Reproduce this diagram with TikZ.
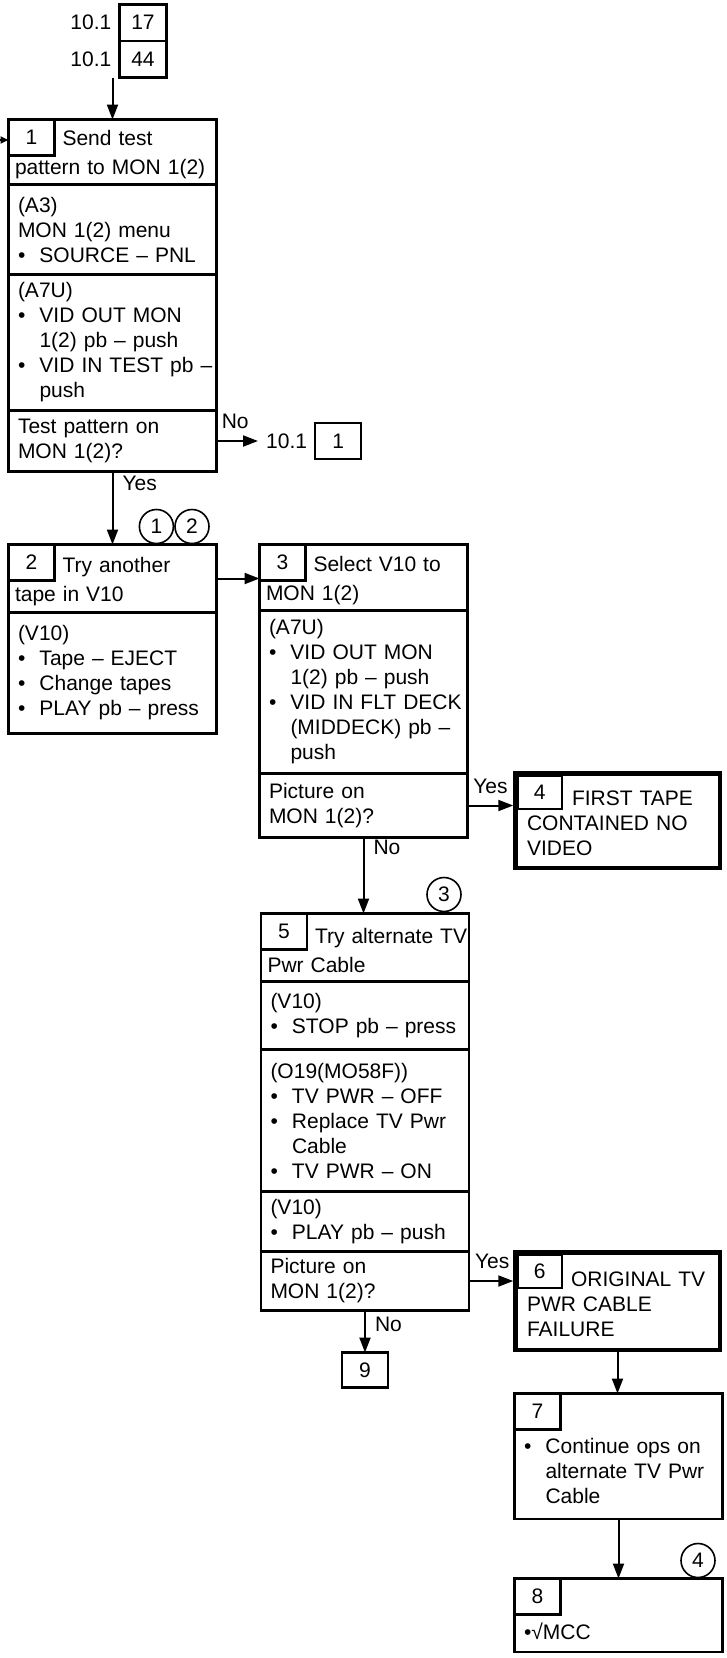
\documentclass[tikz,border=0pt]{standalone}
\usepackage{fontspec}
\setmainfont{Liberation Sans}
\usepackage{tikz}
\usetikzlibrary{arrows.meta,positioning,calc}
\newcommand\fcfont{\fontsize{21}{25}\selectfont}
\newcommand\fcbul[1]{\mbox{\makebox[21.5pt][l]{\textbullet}#1}}
\newcommand\fchang[1]{\mbox{\hspace*{21.5pt}#1}}
\newcommand\fcfirst[2][47.5pt]{\mbox{\rule{0pt}{21pt}\hspace*{#1}#2}}
\tikzset{
  fc/sect/.style={
    draw,
    line width=2.2pt,
    rectangle,
    outer sep=0pt,
    minimum width=208pt,
    text width=189pt,
    inner xsep=9.5pt,
    inner ysep=2pt,
    align=left,
    font=\fcfont
  },
  fc/head/.style={fc/sect, text width=195pt, inner xsep=6.5pt},
  fc/num/.style={
    draw,
    line width=2.2pt,
    outer sep=0pt,
    minimum width=46pt,
    minimum height=36pt,
    inner sep=0pt,
    font=\fcfont
  },
  fc/endbox/.style={
    draw,
    line width=4.5pt,
    outer sep=0pt,
    minimum width=204.5pt,
    text width=181pt,
    inner xsep=11.75pt,
    inner ysep=2pt,
    align=left,
    font=\fcfont
  },
  fc/ref/.style={inner xsep=8pt, inner ysep=0pt, font=\fcfont},
  fc/circ/.style={draw, circle, line width=1.6pt, minimum size=34pt, inner sep=0pt, font=\fcfont},
  fc/arrow/.style={-{Triangle[length=15pt,width=11pt]}, line width=2pt},
  fc/stub/.style={-{Triangle[length=8pt,width=7pt]}, line width=2pt},
  fc/lbl/.style={inner sep=2pt, text height=15pt, text depth=4.5pt, font=\fcfont}
}

\begin{document}
\begin{tikzpicture}[x=1pt,y=-1pt]
  \useasboundingbox (0,0) rectangle (727,1658);

  % entry references
  \node[fc/num, minimum width=47pt, minimum height=36.5pt, anchor=north west] (b17) at (119.5,4.5) {17};
  \node[fc/num, minimum width=47pt, minimum height=36.5pt, below=0pt of b17] (b44) {44};
  \node[fc/ref, left=0pt of b17] (r17) {10.1};
  \node[fc/ref, left=0pt of b44] (r44) {10.1};

  % step 1
  \node[fc/head, minimum height=65pt, anchor=north west] (s1t) at (8.5,119.5) {\fcfirst{Send test}\\[4pt]pattern to MON 1(2)};
  \node[fc/sect, minimum height=90pt, below=0pt of s1t] (s1a) {(A3)\\MON 1(2) menu\\\fcbul{SOURCE – PNL}};
  \node[fc/sect, minimum height=136pt, below=0pt of s1a] (s1b) {(A7U)\\\fcbul{VID OUT MON}\\\fchang{1(2) pb – push}\\\fcbul{VID IN TEST pb –}\\\fchang{push}};
  \node[fc/sect, minimum height=61pt, below=0pt of s1b] (s1q) {Test pattern on\\MON 1(2)?};
  \node[fc/num, anchor=north west] (n1) at (s1t.north west) {1};
  \coordinate (from0) at (0,140);
  \node[fc/ref, right=41.5pt of s1q] (l1) {10.1};
  \node[fc/num, minimum height=36.5pt, right=0pt of l1] (g1) {1};

  % step 2
  \node[fc/head, minimum height=68pt, anchor=north west] (s2t) at (8.5,544.5) {\fcfirst{Try another}\\[4pt]tape in V10};
  \node[fc/sect, minimum height=121pt, below=0pt of s2t] (s2a) {(V10)\\\fcbul{Tape – EJECT}\\\fcbul{Change tapes}\\\fcbul{PLAY pb – press}};
  \node[fc/num, anchor=north west] (n2) at (s2t.north west) {2};
  \node[fc/circ] (c2) at ($(s2t.north east)+(-24.5,-18)$) {2};
  \node[fc/circ, left=0pt of c2] (c1) {1};

  % step 3
  \node[fc/head, minimum height=66pt, anchor=north west] (s3t) at (259.5,544.5) {\fcfirst{Select V10 to}\\[4pt]MON 1(2)};
  \node[fc/sect, minimum height=163pt, below=0pt of s3t] (s3a) {(A7U)\\\fcbul{VID OUT MON}\\\fchang{1(2) pb – push}\\\fcbul{VID IN FLT DECK}\\\fchang{(MIDDECK) pb –}\\\fchang{push}};
  \node[fc/sect, minimum height=64pt, below=0pt of s3a] (s3q) {Picture on\\MON 1(2)?};
  \node[fc/num, anchor=north west] (n3) at (s3t.north west) {3};

  % step 4
  \node[fc/endbox, minimum height=94.5pt, anchor=north west] (b4) at (515.25,773.25) {\fcfirst[45pt]{FIRST TAPE}\\CONTAINED NO\\VIDEO};
  \node[fc/num, minimum width=44pt, minimum height=33pt, anchor=north west] (n4) at ([shift={(2.5,2.5)}]b4.north west) {4};

  % step 5
  \node[fc/head, minimum height=68pt, anchor=north west] (s5t) at (261,913.5) {\fcfirst{Try alternate TV}\\[4pt]Pwr Cable};
  \node[fc/sect, minimum height=68pt, below=0pt of s5t] (s5a) {(V10)\\\fcbul{STOP pb – press}};
  \node[fc/sect, minimum height=142pt, below=0pt of s5a] (s5b) {(O19(MO58F))\\\fcbul{TV PWR – OFF}\\\fcbul{Replace TV Pwr}\\\fchang{Cable}\\\fcbul{TV PWR – ON}};
  \node[fc/sect, minimum height=60pt, below=0pt of s5b] (s5c) {(V10)\\\fcbul{PLAY pb – push}};
  \node[fc/sect, minimum height=59pt, below=0pt of s5c] (s5q) {Picture on\\MON 1(2)?};
  \node[fc/num, anchor=north west] (n5) at (s5t.north west) {5};
  \node[fc/circ] (c3) at ($(s5t.north east)+(-25,-19)$) {3};
  \node[fc/num, minimum height=35pt, below=42pt of s5q] (b9) {9};

  % steps 6 to 8
  \node[fc/endbox, minimum height=97.5pt, anchor=north west] (b6) at (515.25,1252.25) {\fcfirst[44pt]{ORIGINAL TV}\\PWR CABLE\\FAILURE};
  \node[fc/num, minimum width=44pt, minimum height=33pt, anchor=north west] (n6) at ([shift={(2.5,2.5)}]b6.north west) {6};
  \node[fc/sect, minimum height=125.5pt, anchor=north west] (b7) at (514.5,1393.5) {\strut\\[3pt]\fcbul{Continue ops on}\\\fchang{alternate TV Pwr}\\\fchang{Cable}};
  \node[fc/num, anchor=north west] (n7) at (b7.north west) {7};
  \node[fc/sect, minimum height=73.5pt, anchor=north west] (b8) at (514.5,1578.5) {\strut\\[7pt]\textbullet√MCC};
  \node[fc/num, anchor=north west] (n8) at (b8.north west) {8};
  \node[fc/circ] (c4) at ($(b8.north east)+(-24.5,-18)$) {4};

  \draw[fc/stub] (from0) -- (from0 -| s1t.west);
  \draw[fc/arrow] (s1t.north |- b44.south) -- (s1t.north);
  \draw[fc/arrow] (s1q.east) -- node[fc/lbl, pos=0.45, above=5pt] (no1) {No} (l1.west);
  \draw[fc/arrow] (s1q.south) -- node[fc/lbl, pos=0.19, right=7pt] (yes1) {Yes} (s2t.north);
  \draw[fc/arrow] (s2t.east) -- (s2t.east -| s3t.west);
  \draw[fc/arrow, shorten >=2pt] (s3q.east) -- node[fc/lbl, pos=0.48, above=5pt] (yes2) {Yes} (s3q.east -| b4.west);
  \draw[fc/arrow] (s3q.south) -- node[fc/lbl, pos=0.16, right=7pt] (no2) {No} (s3q.south |- s5t.north);
  \draw[fc/arrow, shorten >=2pt] (s5q.east) -- node[fc/lbl, pos=0.5, above=5pt] (yes3) {Yes} (s5q.east -| b6.west);
  \draw[fc/arrow] (s5q.south) -- node[fc/lbl, pos=0.37, right=7pt] (no3) {No} (b9.north);
  \draw[fc/arrow] (b6.south) -- (b6.south |- b7.north);
  \draw[fc/arrow] (b7.south) -- (b8.north);
\end{tikzpicture}
\end{document}
